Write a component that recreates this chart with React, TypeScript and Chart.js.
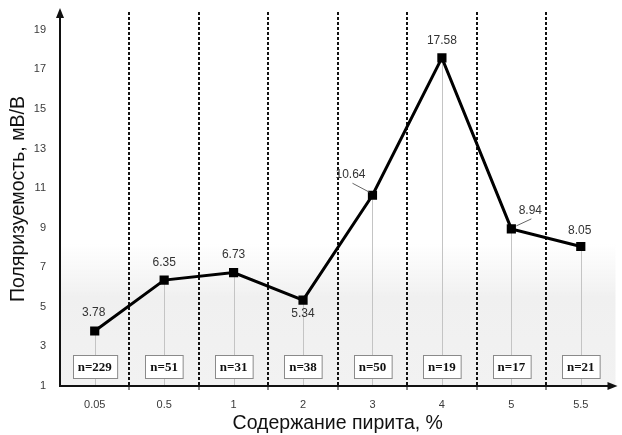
import React, { useEffect, useRef } from 'react';
import { Chart, registerables } from 'chart.js';

Chart.register(...registerables);

// ---- data ----
const categories = ['0.05', '0.5', '1', '2', '3', '4', '5', '5.5'];
const polarizability = [3.78, 6.35, 6.73, 5.34, 10.64, 17.58, 8.94, 8.05];
const sampleCounts = ['n=229', 'n=51', 'n=31', 'n=38', 'n=50', 'n=19', 'n=17', 'n=21'];
const yTickValues = [1, 3, 5, 7, 9, 11, 13, 15, 17, 19];
const yMin = 1;
const yMax = 19.9;
const boxLevel = 2; // value at which the n= boxes sit
const xTitle = 'Содержание пирита, %';
const yTitle = 'Поляризуемость, мВ/В';

// ---- label styling (offsets relative to the point, px) ----
const labelStyle: { dx: number; dy: number; leader?: [number, number, number, number] }[] = [
  { dx: -1, dy: -18 },
  { dx: 0, dy: -17 },
  { dx: 0, dy: -18 },
  { dx: 0, dy: 14 },
  { dx: -22, dy: -21, leader: [-20, -12, -3, -3] },
  { dx: 0, dy: -17 },
  { dx: 19, dy: -18, leader: [5, -3, 20, -10] },
  { dx: -1, dy: -16 },
];

const SANS = '"Liberation Sans", Arial, sans-serif';

const decorPlugin = {
  id: 'decor',
  beforeDraw(chart: any) {
    const { ctx, chartArea } = chart;
    const y = chart.scales.y;
    const top = y.getPixelForValue(8.2);
    const mid = y.getPixelForValue(5.5);
    const g = ctx.createLinearGradient(0, top, 0, chartArea.bottom);
    const frac = (mid - top) / (chartArea.bottom - top);
    g.addColorStop(0, 'rgba(242,242,242,0)');
    g.addColorStop(frac, 'rgba(240,240,240,1)');
    g.addColorStop(1, 'rgba(242,242,242,1)');
    ctx.save();
    ctx.fillStyle = g;
    ctx.fillRect(chartArea.left, top, chartArea.right - chartArea.left, chartArea.bottom - top);
    ctx.restore();
  },
  beforeDatasetsDraw(chart: any) {
    const { ctx, chartArea } = chart;
    const meta = chart.getDatasetMeta(0);
    const yScale = chart.scales.y;
    ctx.save();
    // drop lines
    ctx.strokeStyle = '#c4c4c4';
    ctx.lineWidth = 1;
    meta.data.forEach((pt: any) => {
      const x = Math.round(pt.x) + 0.5;
      ctx.beginPath();
      ctx.moveTo(x, pt.y);
      ctx.lineTo(x, chartArea.bottom);
      ctx.stroke();
    });
    // n= boxes
    const by = yScale.getPixelForValue(boxLevel);
    ctx.font = 'bold 13px "Liberation Serif", "Times New Roman", serif';
    ctx.textAlign = 'center';
    ctx.textBaseline = 'middle';
    meta.data.forEach((pt: any, i: number) => {
      const w = ctx.measureText(sampleCounts[i]).width + 10;
      const h = 23;
      const x0 = Math.round(pt.x - w / 2) + 0.5;
      const y0 = Math.round(by - h / 2) + 0.5;
      ctx.fillStyle = '#ffffff';
      ctx.fillRect(x0, y0, w, h);
      ctx.strokeStyle = '#8a8a8a';
      ctx.lineWidth = 1;
      ctx.strokeRect(x0, y0, w, h);
      ctx.fillStyle = '#111111';
      ctx.fillText(sampleCounts[i], pt.x, by + 1);
    });
    ctx.restore();
  },
  afterDatasetsDraw(chart: any) {
    const { ctx } = chart;
    const meta = chart.getDatasetMeta(0);
    ctx.save();
    ctx.font = '12px ' + SANS;
    ctx.textAlign = 'center';
    ctx.textBaseline = 'middle';
    meta.data.forEach((pt: any, i: number) => {
      const s = labelStyle[i];
      if (s.leader) {
        ctx.strokeStyle = '#666666';
        ctx.lineWidth = 1;
        ctx.beginPath();
        ctx.moveTo(pt.x + s.leader[0], pt.y + s.leader[1]);
        ctx.lineTo(pt.x + s.leader[2], pt.y + s.leader[3]);
        ctx.stroke();
      }
      ctx.fillStyle = '#333333';
      ctx.fillText(polarizability[i].toFixed(2), pt.x + s.dx, pt.y + s.dy);
    });
    ctx.restore();
  },
  afterDraw(chart: any) {
    const { ctx, chartArea } = chart;
    ctx.save();
    // solid x axis line (drawn here so grid dash does not affect it)
    ctx.strokeStyle = '#111111';
    ctx.lineWidth = 2;
    ctx.setLineDash([]);
    ctx.beginPath();
    ctx.moveTo(chartArea.left - 1, chartArea.bottom);
    ctx.lineTo(chartArea.right - 4, chartArea.bottom);
    ctx.stroke();
    ctx.fillStyle = '#111111';
    // y arrow
    const ax = chartArea.left;
    ctx.beginPath();
    ctx.moveTo(ax, chartArea.top - 4);
    ctx.lineTo(ax - 4, chartArea.top + 6);
    ctx.lineTo(ax + 4, chartArea.top + 6);
    ctx.closePath();
    ctx.fill();
    // x arrow
    const ay = chartArea.bottom;
    ctx.beginPath();
    ctx.moveTo(chartArea.right + 2, ay);
    ctx.lineTo(chartArea.right - 8, ay - 4);
    ctx.lineTo(chartArea.right - 8, ay + 4);
    ctx.closePath();
    ctx.fill();
    ctx.restore();
  },
};

export default function App() {
  const canvasRef = useRef<HTMLCanvasElement | null>(null);

  useEffect(() => {
    document.body.style.margin = '0';
    const canvas = canvasRef.current;
    if (!canvas) return;
    const chart = new Chart(canvas, {
      type: 'line',
      data: {
        labels: categories,
        datasets: [
          {
            data: polarizability,
            borderColor: '#000000',
            borderWidth: 3,
            pointStyle: 'rect',
            pointRadius: 6.5,
            pointBackgroundColor: '#000000',
            pointBorderColor: '#000000',
            pointBorderWidth: 0,
            tension: 0,
          },
        ],
      },
      options: {
        animation: false,
        responsive: true,
        maintainAspectRatio: false,
        layout: { padding: { top: 12, right: 2, left: 0, bottom: 0 } },
        plugins: {
          legend: { display: false },
          tooltip: { enabled: false },
        },
        scales: {
          x: {
            type: 'category',
            offset: true,
            afterFit: (s: any) => {
              s.height = 49;
            },
            border: { display: false, color: '#111111', width: 2, dash: [3, 2] },
            grid: {
              offset: true,
              drawOnChartArea: true,
              drawTicks: true,
              tickLength: 4,
              lineWidth: 2,
              color: (c: any) => (c.type === 'tick' && c.index > 0 ? '#111111' : 'rgba(0,0,0,0)'),
              tickColor: (c: any) => (c.type === 'tick' && c.index > 0 ? '#111111' : 'rgba(0,0,0,0)'),
              tickWidth: 1,
              tickBorderDash: [],
            },
            ticks: {
              color: '#3a3a3a',
              font: { family: SANS, size: 11 },
              padding: 8,
              maxRotation: 0,
            },
            title: {
              display: true,
              text: xTitle,
              color: '#111111',
              font: { family: SANS, size: 19.5 },
              padding: { top: 0, bottom: 0 },
            },
          },
          y: {
            type: 'linear',
            min: yMin,
            max: yMax,
            afterFit: (s: any) => {
              s.width = 60;
            },
            afterBuildTicks: (s: any) => {
              s.ticks = yTickValues.map((v) => ({ value: v }));
            },
            border: { display: true, color: '#111111', width: 2 },
            grid: {
              display: true,
              drawOnChartArea: false,
              drawTicks: true,
              tickLength: 12,
              color: 'rgba(0,0,0,0)',
              tickColor: 'rgba(0,0,0,0)',
            },
            ticks: {
              color: '#3a3a3a',
              font: { family: SANS, size: 11 },
              padding: 2,
            },
            title: {
              display: true,
              text: yTitle,
              color: '#111111',
              font: { family: SANS, size: 19.5 },
              padding: { top: 7, bottom: 0 },
            },
          },
        },
      },
      plugins: [decorPlugin],
    } as any);
    return () => chart.destroy();
  }, []);

  return (
    <div style={{ width: 622, height: 435, position: 'relative' }}>
      <canvas ref={canvasRef} />
    </div>
  );
}
